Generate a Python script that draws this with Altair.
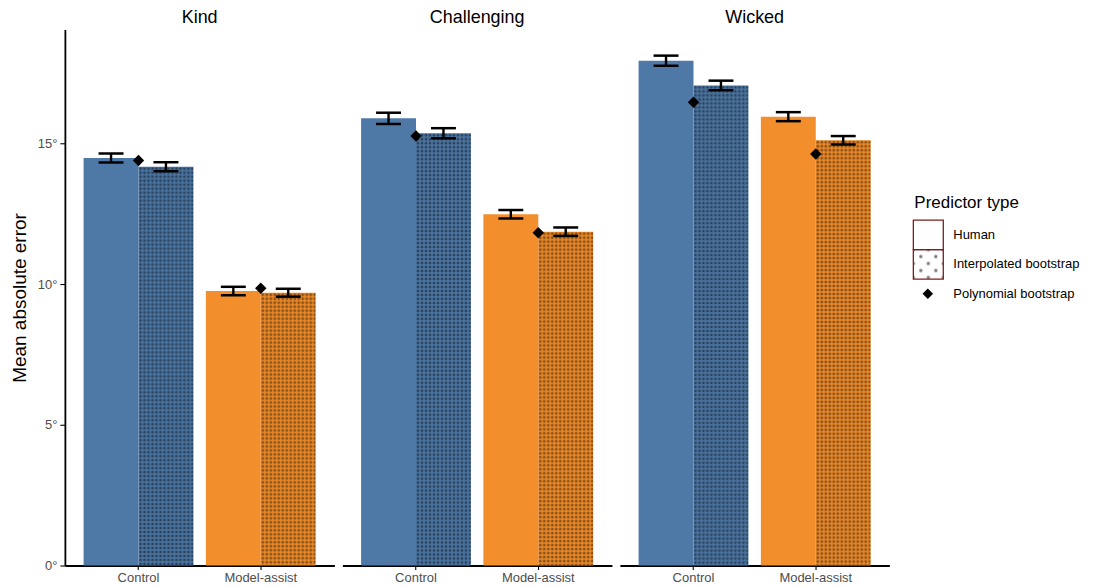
import altair as alt
import pandas as pd
from urllib.parse import quote

FONT = "Liberation Sans"

panels = ["Kind", "Challenging", "Wicked"]
conditions = ["Control", "Model-assist"]
predictors = ["Human", "Interpolated bootstrap", "Polynomial bootstrap"]
condition_colors = ["#4E79A7", "#F28E2B"]

# Values per panel, ordered as [Control, Model-assist]
human_mae = {"Kind": [14.49, 9.76], "Challenging": [15.90, 12.49], "Wicked": [17.95, 15.96]}
human_ci = {"Kind": [0.16, 0.15], "Challenging": [0.20, 0.15], "Wicked": [0.18, 0.16]}
interp_mae = {"Kind": [14.18, 9.70], "Challenging": [15.37, 11.87], "Wicked": [17.07, 15.12]}
interp_ci = {"Kind": [0.16, 0.14], "Challenging": [0.18, 0.15], "Wicked": [0.17, 0.15]}
poly_mae = {"Kind": [14.40, 9.86], "Challenging": [15.27, 11.83], "Wicked": [16.47, 14.63]}

rows = []
for p in panels:
    for i, c in enumerate(conditions):
        rows.append(dict(panel=p, condition=c, kind=predictors[0], mae=human_mae[p][i],
                         lo=human_mae[p][i] - human_ci[p][i], hi=human_mae[p][i] + human_ci[p][i]))
        rows.append(dict(panel=p, condition=c, kind=predictors[1], mae=interp_mae[p][i],
                         lo=interp_mae[p][i] - interp_ci[p][i], hi=interp_mae[p][i] + interp_ci[p][i]))
        rows.append(dict(panel=p, condition=c, kind=predictors[2], mae=poly_mae[p][i],
                         lo=None, hi=None))
df = pd.DataFrame(rows)

# Dot textures used as fills for the bootstrap bars and the legend key
bar_svg = ("<svg xmlns='http://www.w3.org/2000/svg' width='100%' height='100%'>"
           "<defs><pattern id='d' width='4' height='4' patternUnits='userSpaceOnUse'>"
           "<rect x='0.7' y='0.7' width='2.6' height='2.6' fill='#000' fill-opacity='0.45'/>"
           "</pattern></defs><rect width='100%' height='100%' fill='url(#d)'/></svg>")
key_svg = ("<svg xmlns='http://www.w3.org/2000/svg' width='100%' height='100%'>"
           "<defs><pattern id='k' width='15' height='14' patternUnits='userSpaceOnUse'>"
           "<circle cx='0' cy='0' r='1.7' fill='#777'/><circle cx='15' cy='0' r='1.7' fill='#777'/>"
           "<circle cx='0' cy='14' r='1.7' fill='#777'/><circle cx='15' cy='14' r='1.7' fill='#777'/>"
           "<circle cx='7.5' cy='7' r='1.7' fill='#777'/>"
           "</pattern></defs><rect width='100%' height='100%' fill='url(#k)'/></svg>")
bar_uri = "data:image/svg+xml;charset=utf-8," + quote(bar_svg)
key_uri = "data:image/svg+xml;charset=utf-8," + quote(key_svg)

x_enc = alt.X("condition:N", sort=conditions,
              scale=alt.Scale(domain=conditions, paddingInner=0.102, paddingOuter=0.153),
              axis=alt.Axis(title=None, labelAngle=0, tickSize=4, labelPadding=2,
                            labelFontSize=13, labelColor="#4d4d4d", domainWidth=1.8,
                            domainColor="black", tickColor="black", tickWidth=1.1))
xo_enc = alt.XOffset("kind:N", scale=alt.Scale(domain=predictors[:2], paddingInner=0, paddingOuter=0))
y_scale = alt.Scale(domain=[0, 19.06], nice=False, zero=True)
y_axis = alt.Axis(values=[0, 5, 10, 15], labelExpr="datum.value + '°'", title="Mean absolute error",
                  titleFontSize=19, titleFontWeight="normal", titleColor="black", titlePadding=8,
                  tickSize=5, labelPadding=3, labelFontSize=13, labelColor="#4d4d4d",
                  domainWidth=1.8, domainColor="black", tickColor="black", tickWidth=1.1, grid=False)

not_poly = alt.datum.kind != predictors[2]

bars = alt.Chart().transform_filter(not_poly).mark_bar().encode(
    x=x_enc, xOffset=xo_enc,
    y=alt.Y("mae:Q", scale=y_scale, axis=y_axis),
    color=alt.Color("condition:N", scale=alt.Scale(domain=conditions, range=condition_colors), legend=None),
)
texture = alt.Chart().transform_filter(alt.datum.kind == predictors[1]).mark_image(aspect=False).encode(
    x=x_enc, xOffset=xo_enc, y="mae:Q", y2=alt.datum(0), url=alt.value(bar_uri),
)
stems = alt.Chart().transform_filter(not_poly).mark_rule(color="black", strokeWidth=2.4).encode(
    x=x_enc, xOffset=xo_enc, y="lo:Q", y2="hi:Q",
)
caps = alt.Chart().transform_filter(not_poly).transform_fold(["lo", "hi"], as_=["end", "pos"]).mark_tick(
    color="black", size=25, thickness=2.5, opacity=1).encode(
    x=x_enc, xOffset=xo_enc, y="pos:Q",
)
diamonds = alt.Chart().transform_filter(alt.datum.kind == predictors[2]).mark_point(
    shape="diamond", filled=True, size=130, color="black", opacity=1).encode(
    x=x_enc, y="mae:Q",
)

panels_chart = alt.layer(bars, texture, stems, caps, diamonds, data=df).properties(
    width=270, height=537
).facet(
    column=alt.Column("panel:N", sort=panels,
                      header=alt.Header(title=None, labelFontSize=18, labelColor="black",
                                        labelFont=FONT, labelPadding=2)),
    spacing=8,
)

# Hand-built legend
leg = pd.DataFrame({"item": predictors})
ly = alt.Y("item:N", sort=predictors, axis=None,
           scale=alt.Scale(domain=predictors, range=[191, 279.5], paddingInner=0, paddingOuter=0))
boxed = alt.datum.item != predictors[2]
key_bg = alt.Chart(leg).transform_filter(boxed).mark_rect(fill="white").encode(
    x=alt.value(0), x2=alt.value(30), y=ly)
key_tex = alt.Chart(leg).transform_filter(alt.datum.item == predictors[1]).mark_image(aspect=False).encode(
    x=alt.value(0), x2=alt.value(30), y=ly, url=alt.value(key_uri))
key_box = alt.Chart(leg).transform_filter(boxed).mark_rect(
    fillOpacity=0, stroke="#7a1f1f", strokeWidth=1.3).encode(x=alt.value(0), x2=alt.value(30), y=ly)
key_dia = alt.Chart(leg).transform_filter(alt.datum.item == predictors[2]).mark_point(
    shape="diamond", filled=True, size=110, color="black", opacity=1).encode(x=alt.value(14.5), y=ly)
key_lab = alt.Chart(leg).mark_text(align="left", baseline="middle", fontSize=13, color="black",
                                   font=FONT).encode(x=alt.value(40), y=ly, text="item:N")
leg_title = alt.Chart(pd.DataFrame({"t": ["Predictor type"]})).mark_text(
    align="left", baseline="middle", fontSize=17, color="black", font=FONT).encode(
    x=alt.value(1), y=alt.value(174), text="t:N")
legend_chart = alt.layer(key_bg, key_tex, key_box, key_dia, key_lab, leg_title).properties(
    width=190, height=320)

chart = alt.hconcat(panels_chart, legend_chart, spacing=23).properties(
    padding={"left": 10, "top": 9, "right": 5, "bottom": 0}
).configure(font=FONT).configure_view(stroke=None)

chart.save("out.html", embed_options={"renderer": "svg", "actions": False})
